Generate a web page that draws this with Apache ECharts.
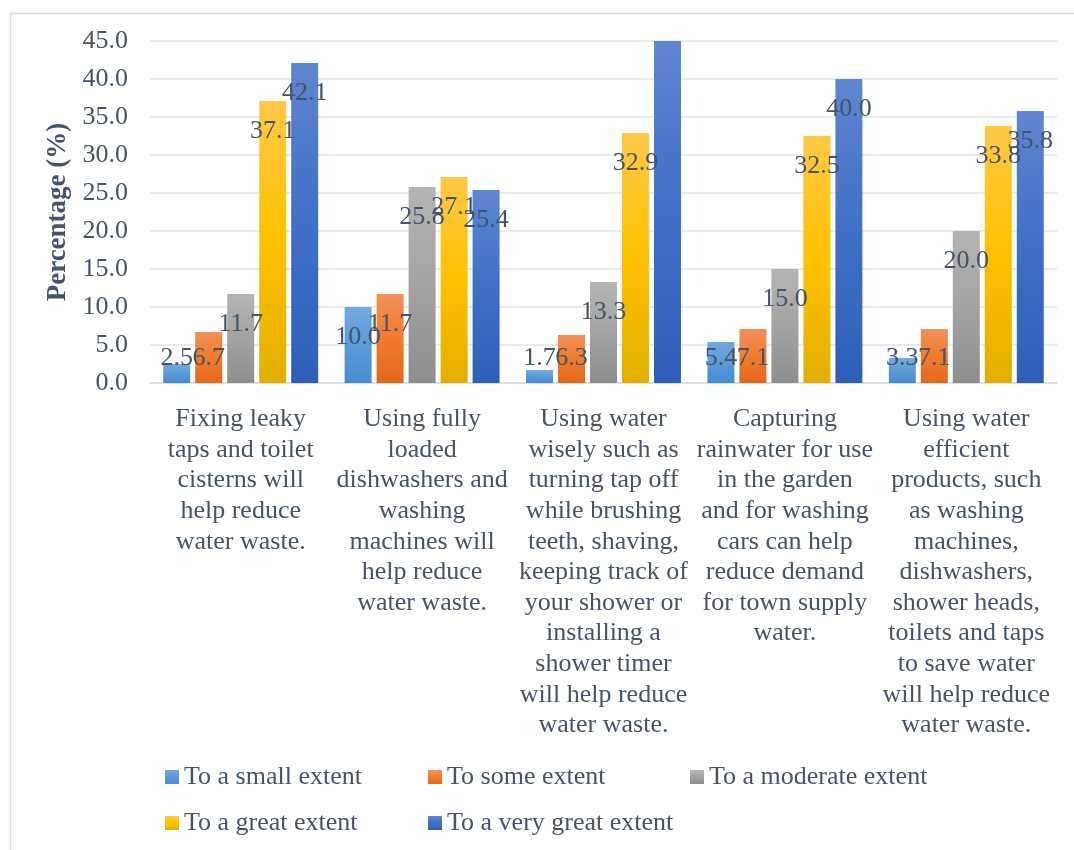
<!DOCTYPE html>
<html>
<head>
<meta charset="utf-8">
<title>Water saving practices</title>
<script src="https://cdn.jsdelivr.net/npm/echarts@6/dist/echarts.min.js"></script>
<style>
  html, body { margin: 0; padding: 0; background: #ffffff; }
  #chart { width: 1074px; height: 850px; }
</style>
</head>
<body>
<div id="chart"></div>
<script>
// Statements shown along the category axis (line breaks as printed)
const categories = [
  'Fixing leaky\ntaps and toilet\ncisterns will\nhelp reduce\nwater waste.',
  'Using fully\nloaded\ndishwashers and\nwashing\nmachines will\nhelp reduce\nwater waste.',
  'Using water\nwisely such as\nturning tap off\nwhile brushing\nteeth, shaving,\nkeeping track of\nyour shower or\ninstalling a\nshower timer\nwill help reduce\nwater waste.',
  'Capturing\nrainwater for use\nin the garden\nand for washing\ncars can help\nreduce demand\nfor town supply\nwater.',
  'Using water\nefficient\nproducts, such\nas washing\nmachines,\ndishwashers,\nshower heads,\ntoilets and taps\nto save water\nwill help reduce\nwater waste.'
];

// Response shares (%) per statement
const smallExtent     = [2.5, 10.0, 1.7, 5.4, 3.3];
const someExtent      = [6.7, 11.7, 6.3, 7.1, 7.1];
const moderateExtent  = [11.7, 25.8, 13.3, 15.0, 20.0];
const greatExtent     = [37.1, 27.1, 32.9, 32.5, 33.8];
const veryGreatExtent = [42.1, 25.4, 45.8, 40.0, 35.8];

const seriesNames = [
  'To a small extent',
  'To some extent',
  'To a moderate extent',
  'To a great extent',
  'To a very great extent'
];

// Value axis ticks
const yMin = 0;
const yMax = 45;
const yStep = 5;

const FONT = "'Liberation Serif', 'Times New Roman', serif";
const TEXT = '#44546A';

function grad(top, mid, bottom) {
  return new echarts.graphic.LinearGradient(0, 0, 0, 1, [
    { offset: 0, color: top },
    { offset: 0.5, color: mid },
    { offset: 1, color: bottom }
  ]);
}

const fills = [
  grad('#72AAE0', '#5B9BD5', '#468BD3'),
  grad('#F2915A', '#F07B2C', '#E4681C'),
  grad('#B4B4B4', '#A3A3A3', '#8E8E8E'),
  grad('#FFC847', '#FFC200', '#E2AE00'),
  grad('#5F86D0', '#416FC7', '#2E5FB8')
];

const seriesValues = [smallExtent, someExtent, moderateExtent, greatExtent, veryGreatExtent];

// Values beyond the axis maximum are clipped and carry no label
function toData(values) {
  return values.map(v => v > yMax ? { value: v, label: { show: false } } : v);
}

const series = seriesValues.map((vals, i) => ({
  name: seriesNames[i],
  type: 'bar',
  data: toData(vals),
  barWidth: 27,
  barGap: '18.5%',
  clip: true,
  itemStyle: { color: fills[i] },
  label: {
    show: true,
    position: 'insideTop',
    formatter: p => Number(p.value).toFixed(1),
    color: TEXT,
    fontFamily: FONT,
    fontSize: 26
  },
  labelLayout: function (params) {
    const r = params.rect;
    const centre = Math.min(r.y + 30, r.y + r.height - 25);
    return {
      x: r.x + r.width / 2,
      y: centre,
      align: 'center',
      verticalAlign: 'middle'
    };
  }
}));

function legendBlock(names, left) {
  return {
    data: names,
    orient: 'vertical',
    left: left,
    top: 762,
    padding: 0,
    itemWidth: 14,
    itemHeight: 14,
    itemGap: 16,
    icon: 'rect',
    selectedMode: false,
    textStyle: {
      color: TEXT,
      fontFamily: FONT,
      fontSize: 26,
      lineHeight: 30
    }
  };
}

const chart = echarts.init(document.getElementById('chart'), null, { renderer: 'canvas' });

chart.setOption({
  animation: false,
  backgroundColor: '#ffffff',
  textStyle: { fontFamily: FONT },
  graphic: [{
    type: 'rect',
    left: 8,
    top: 11,
    shape: { x: 0.5, y: 0.5, width: 1200, height: 1000 },
    style: { fill: 'none', stroke: '#D9DEE5', lineWidth: 1.5 },
    silent: true,
    z: -1
  }],
  grid: {
    left: 150,
    right: 17,
    top: 41,
    bottom: 467,
    containLabel: false
  },
  legend: [
    legendBlock(['To a small extent', 'To a great extent'], 165),
    legendBlock(['To some extent', 'To a very great extent'], 428),
    legendBlock(['To a moderate extent'], 690)
  ],
  xAxis: {
    type: 'category',
    data: categories,
    axisTick: { show: false },
    axisLine: { lineStyle: { color: '#D9DDE3', width: 1.5 } },
    axisLabel: {
      interval: 0,
      margin: 21,
      color: TEXT,
      fontFamily: FONT,
      fontSize: 26,
      lineHeight: 30.6,
      align: 'center',
      verticalAlign: 'top'
    }
  },
  yAxis: {
    type: 'value',
    min: yMin,
    max: yMax,
    interval: yStep,
    name: 'Percentage (%)',
    nameLocation: 'middle',
    nameGap: 76,
    nameTextStyle: {
      color: TEXT,
      fontFamily: FONT,
      fontSize: 27,
      fontWeight: 'bold'
    },
    axisLine: { show: false },
    axisTick: { show: false },
    axisLabel: {
      margin: 22,
      color: TEXT,
      fontFamily: FONT,
      fontSize: 26,
      formatter: v => v.toFixed(1)
    },
    splitLine: { lineStyle: { color: '#DFE3E8', width: 1.5 } }
  },
  series: series
});
</script>
</body>
</html>
